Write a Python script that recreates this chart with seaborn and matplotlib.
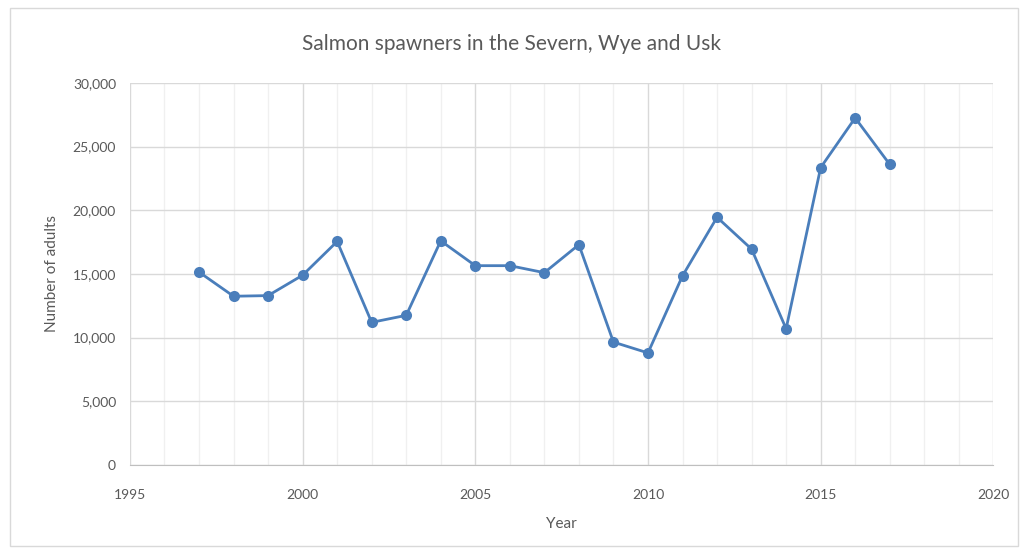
import pandas as pd
import matplotlib.pyplot as plt
import seaborn as sns
from matplotlib.ticker import MultipleLocator, FuncFormatter
from matplotlib.patches import Rectangle

# Salmon spawner counts
years = [1997, 1998, 1999, 2000, 2001, 2002, 2003, 2004, 2005, 2006, 2007,
         2008, 2009, 2010, 2011, 2012, 2013, 2014, 2015, 2016, 2017]
adults = [15150, 13250, 13300, 14900, 17550, 11200, 11750, 17600, 15650, 15650, 15100,
          17300, 9650, 8800, 14850, 19450, 16950, 10700, 23350, 27250, 23600]

df = pd.DataFrame({'Year': years, 'Adults': adults})

sns.set_style('white')
plt.rcParams['font.family'] = ['Lato', 'DejaVu Sans']

txt = '#595959'
fig = plt.figure(figsize=(10.23, 5.49), dpi=100)
ax = fig.add_axes([0.127, 0.153, 0.844, 0.696])

sns.lineplot(data=df, x='Year', y='Adults', ax=ax, color='#4a7ebb',
             linewidth=2, marker='o', markersize=8, markeredgewidth=0, zorder=3)

ax.set_xlim(1995, 2020)
ax.set_ylim(0, 30000)
ax.xaxis.set_major_locator(MultipleLocator(5))
ax.xaxis.set_minor_locator(MultipleLocator(1))
ax.yaxis.set_major_locator(MultipleLocator(5000))
ax.yaxis.set_major_formatter(FuncFormatter(lambda v, p: f'{int(v):,}'))

ax.grid(which='major', color='#d9d9d9', linewidth=1)
ax.grid(which='minor', axis='x', color='#f0f0f0', linewidth=1)
ax.set_axisbelow(True)
for s in ['top', 'right', 'left']:
    ax.spines[s].set_visible(False)
ax.spines['bottom'].set_color('#bfbfbf')
ax.tick_params(which='both', length=0, labelsize=10, colors=txt)
ax.tick_params(axis='x', pad=17)
ax.tick_params(axis='y', pad=10)

ax.set_xlabel('Year', fontsize=11, color=txt, labelpad=12)
ax.set_ylabel('Number of adults', fontsize=11, color=txt, labelpad=10)
fig.text(0.5, 0.92, 'Salmon spawners in the Severn, Wye and Usk',
         ha='center', va='center', fontsize=15, color=txt)

fig.patches.append(Rectangle((0.01, 0.006), 0.985, 0.98, transform=fig.transFigure,
                             fill=False, edgecolor='#d9d9d9', linewidth=1))

fig.savefig('out.png', dpi=100, facecolor='white')
